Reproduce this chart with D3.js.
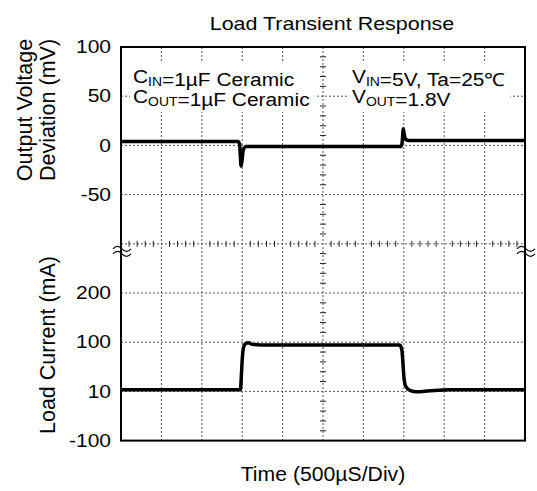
<!DOCTYPE html>
<html>
<head>
<meta charset="utf-8">
<script src="https://cdn.jsdelivr.net/npm/d3@7"></script>
<style>
  body { margin: 0; background: #fff; }
  svg { display: block; }
  text { font-family: "Liberation Sans", Arial, sans-serif; fill: #000; }
</style>
</head>
<body>
<svg id="chart" width="537" height="491"></svg>
<script>
// output voltage deviation (time in µs, mV)
const vTime  = [0, 1450, 1466, 1476, 1486, 1498, 1515, 1550, 3470, 3482, 3494, 3506, 3525, 3560, 5000];
const vValue = [4, 4, 2, -9, -21, -15, -4, -1, -1, 5, 17, 11, 6, 5, 5];

// load current (time in µs, mA)
const iTime  = [0, 1478, 1490, 1502, 1520, 1545, 1575, 1625, 1720, 3450, 3476, 3490, 3502, 3525, 3575, 3660, 3820, 4070, 5000];
const iValue = [13, 13, 40, 72, 92, 98, 99, 96, 95, 95, 86, 60, 35, 19, 12, 9, 11, 13, 13];

// tick labels
const voltageTicks = [100, 50, 0, -50];
const currentTicks = [200, 100, 10, -100];

const svg = d3.select("#chart");

const pLeft = 121, pRight = 525, pTop = 47, pBottom = 440.6;

// time axis: 10 div x 500µs
const x = d3.scaleLinear().domain([0, 5000]).range([pLeft, pRight]);
// screen divisions (8 vertical)
const yDiv = d3.scaleLinear().domain([0, 8]).range([pBottom, pTop]);
// upper half: voltage
const yV = d3.scaleLinear().domain([-100, 100]).range([yDiv(4), yDiv(8)]);
// lower half: current (labels are not evenly spaced in value)
const yI = d3.scaleLinear().domain([-100, 10, 100, 200, 300]).range([yDiv(0), yDiv(1), yDiv(2), yDiv(3), yDiv(4)]);

// stretch text horizontally
function stretch(sel, k) {
  sel.each(function () {
    const len = this.getComputedTextLength();
    d3.select(this).attr("textLength", len * k).attr("lengthAdjust", "spacingAndGlyphs");
  });
}

// grid
const grid = svg.append("g");
grid.selectAll("line.v")
  .data(d3.range(1, 10))
  .join("line")
  .attr("x1", d => x(d * 500)).attr("x2", d => x(d * 500))
  .attr("y1", pTop).attr("y2", pBottom)
  .attr("stroke", "#555").attr("stroke-width", 1).attr("stroke-dasharray", "2,2");
grid.selectAll("line.h")
  .data(d3.range(1, 8))
  .join("line")
  .attr("y1", d => yDiv(d)).attr("y2", d => yDiv(d))
  .attr("x1", pLeft).attr("x2", pRight)
  .attr("stroke", "#555").attr("stroke-width", 1).attr("stroke-dasharray", "2,2");

// minor ticks on the center lines
grid.selectAll("line.mx")
  .data(d3.range(1, 50).filter(d => d % 5 !== 0))
  .join("line")
  .attr("x1", d => x(d * 100)).attr("x2", d => x(d * 100))
  .attr("y1", yDiv(4) - 3).attr("y2", yDiv(4) + 3)
  .attr("stroke", "#222").attr("stroke-width", 1);
grid.selectAll("line.my")
  .data(d3.range(1, 40).filter(d => d % 5 !== 0))
  .join("line")
  .attr("y1", d => yDiv(d / 5)).attr("y2", d => yDiv(d / 5))
  .attr("x1", x(2500) - 3).attr("x2", x(2500) + 3)
  .attr("stroke", "#222").attr("stroke-width", 1);

// annotations with white background
function note(x0, lines) {
  const g = svg.append("g");
  const bg = g.append("rect").attr("fill", "#fff");
  lines.forEach(l => {
    const t = g.append("text").attr("x", x0).attr("y", l.y).attr("font-size", 18);
    l.parts.forEach(p => {
      if (p.sub) {
        t.append("tspan").attr("font-size", 12).attr("dy", 3).text(p.sub);
        t.append("tspan").attr("dy", -3).text("");
      } else {
        t.append("tspan").text(p.t);
      }
    });
    stretch(t, 1.16);
  });
  const bb = g.node().getBBox();
  bg.attr("x", bb.x - 3).attr("y", 62).attr("width", bb.width + 8).attr("height", 50);
}
note(133, [
  { y: 83, parts: [{ t: "C" }, { sub: "IN" }, { t: "=1µF Ceramic" }] },
  { y: 103, parts: [{ t: "C" }, { sub: "OUT" }, { t: "=1µF Ceramic" }] }
]);
note(352, [
  { y: 83, parts: [{ t: "V" }, { sub: "IN" }, { t: "=5V, Ta=25℃" }] },
  { y: 103, parts: [{ t: "V" }, { sub: "OUT" }, { t: "=1.8V" }] }
]);

// traces
const lineV = d3.line().x(d => x(d[0])).y(d => yV(d[1])).curve(d3.curveMonotoneX);
const lineI = d3.line().x(d => x(d[0])).y(d => yI(d[1])).curve(d3.curveMonotoneX);
svg.append("path")
  .attr("d", lineV(d3.zip(vTime, vValue)))
  .attr("fill", "none").attr("stroke", "#000").attr("stroke-width", 3.5).attr("stroke-linejoin", "round");
svg.append("path")
  .attr("d", lineI(d3.zip(iTime, iValue)))
  .attr("fill", "none").attr("stroke", "#000").attr("stroke-width", 3.5).attr("stroke-linejoin", "round");

// frame
svg.append("rect")
  .attr("x", pLeft).attr("y", pTop).attr("width", pRight - pLeft).attr("height", pBottom - pTop)
  .attr("fill", "none").attr("stroke", "#000").attr("stroke-width", 2);

// break marks
[pLeft, pRight].forEach(bx => {
  [5, 10].forEach(off => {
    const y0 = yDiv(4) + off;
    svg.append("path")
      .attr("d", `M${bx - 8},${y0} q4.5,-5 9,0 t9,0`)
      .attr("fill", "none").attr("stroke", "#000").attr("stroke-width", 1.2);
  });
});

// tick labels
const fmt = d => String(d);
const axV = svg.append("g").attr("transform", `translate(${pLeft},0)`)
  .call(d3.axisLeft(yV).tickValues(voltageTicks).tickFormat(fmt).tickSize(0).tickPadding(10));
const axI = svg.append("g").attr("transform", `translate(${pLeft},0)`)
  .call(d3.axisLeft(yI).tickValues(currentTicks).tickFormat(fmt).tickSize(0).tickPadding(10));
[axV, axI].forEach(ax => {
  ax.select(".domain").remove();
  ax.selectAll("text").attr("font-size", 17.5).attr("font-family", null).attr("fill", "#000");
  stretch(ax.selectAll("text"), 1.2);
});

// titles
const title = svg.append("text").attr("x", 332).attr("y", 30).attr("text-anchor", "middle")
  .attr("font-size", 18.5).text("Load Transient Response");
stretch(title, 1.16);

const xTitle = svg.append("text").attr("x", 323).attr("y", 481).attr("text-anchor", "middle")
  .attr("font-size", 20).text("Time (500µS/Div)");
stretch(xTitle, 1.06);

svg.append("text").attr("transform", "translate(32,110) rotate(-90)").attr("text-anchor", "middle")
  .attr("font-size", 21.5).text("Output Voltage");
svg.append("text").attr("transform", "translate(55,110) rotate(-90)").attr("text-anchor", "middle")
  .attr("font-size", 21.5).text("Deviation (mV)");
svg.append("text").attr("transform", "translate(55,345) rotate(-90)").attr("text-anchor", "middle")
  .attr("font-size", 21.5).text("Load Current (mA)");
</script>
</body>
</html>
